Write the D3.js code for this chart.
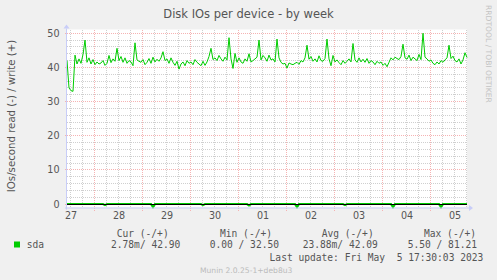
<!DOCTYPE html>
<html>
<head>
<meta charset="utf-8">
<script src="https://cdn.jsdelivr.net/npm/d3@7"></script>
<style>
  body { margin: 0; background: #f0f0f0; }
  svg { display: block; }
  text { font-family: "DejaVu Sans", sans-serif; fill: #555; }
  .mono { font-family: "DejaVu Sans Mono", monospace; font-size: 9.6px; fill: #555; }
</style>
</head>
<body>
<div id="chart"></div>
<script>
// hourly samples, first one at Apr 27 10:15
var startTime = new Date(2023, 3, 27, 10, 15)
var endTime = new Date(2023, 4, 5, 18, 15)

// write (+), IOs/second
var writeVals = [
  42, 34, 33.2, 33, 43.6, 41, 42.5, 41.2, 43.8, 48,
  41.5, 42.8, 41, 42.3, 40.8, 41.6, 41, 41.3, 42, 40.6,
  41.2, 43.5, 41.4, 42.5, 41.8, 45.6, 42, 43.2, 41.5, 42.8,
  41.2, 42, 41.6, 40.5, 47.2, 42.2, 41.8, 41.5, 42.3, 40.8,
  41.5, 42.6, 41.2, 43, 41.6, 42.4, 41.8, 42.8, 44.6, 42,
  42.5, 41.2, 42.8, 41.5, 40.6, 41.8, 39.5, 41, 41.6, 40.5,
  42, 41.2, 41.6, 40.8, 42.3, 41.5, 41, 40.5, 41.8, 40.6,
  41.6, 43.2, 45.6, 42.3, 42.8, 42, 43.5, 42.5, 41.8, 43,
  42.2, 48.7, 42.5, 39.7, 44.1, 41.5, 42.8, 41.6, 41.2, 42.5,
  41.8, 44, 41.6, 42, 42.5, 43, 48, 42.2, 43.5, 42.8,
  41.8, 43.6, 42.2, 42.5, 41.6, 48.3, 42.8, 41.5, 41, 41.2,
  39.8, 41.3, 41, 40.8, 41.2, 41.5, 40.9, 42, 41.6, 42.8,
  46.5, 42.4, 43.2, 41.8, 42.5, 41.6, 43.4, 42, 41.8, 42.6,
  48.3, 42.5, 40.5, 43.5, 41.6, 42.2, 41.4, 40.8, 42, 41.2,
  41.8, 42.5, 41.6, 47, 42.2, 41.5, 42.8, 41.6, 42.4, 41.5,
  42.6, 41.2, 42, 41.6, 40.8, 41.8, 41.2, 41.6, 40.6, 41.2,
  40.2, 41.5, 42.8, 42.2, 43, 42.6, 42.3, 43.2, 46.8, 42.8,
  42.4, 43.6, 42, 43, 42.5, 42, 43.8, 42.3, 50, 43,
  42.5, 41.8, 42.2, 41.2, 40.8, 41.6, 41, 42, 41.5, 42.2,
  42.8, 46.5, 42.6, 43.3, 42, 41.6, 42.5, 41, 42.2, 44.3,
  42.9
]

// read (-), plotted below zero
var readVals = [
  0, 0, 0, 0, 0, 0, 0, 0, 0, 0,
  0, 0, 0, 0, 0, 0, 0, 0, 0, 0.3,
  0, 0, 0, 0, 0, 0, 0, 0, 0, 0,
  0, 0, 0, 0, 0, 0, 0, 0, 0, 0,
  0, 0, 0, 0.9, 0, 0, 0, 0, 0, 0,
  0, 0, 0, 0, 0, 0, 0, 0, 0, 0,
  0, 0, 0, 0, 0, 0, 0, 0, 0.3, 0,
  0, 0, 0, 0, 0, 0, 0, 0, 0, 0,
  0, 0, 0, 0, 0, 0, 0, 0, 0, 0,
  0, 0.4, 0, 0, 0, 0, 0, 0, 0, 0,
  0, 0, 0, 0, 0, 0, 0, 0, 0, 0,
  0, 0, 0, 0, 0, 0.9, 0, 0, 0, 0,
  0, 0, 0, 0, 0, 0, 0, 0, 0, 0,
  0, 0, 0, 0, 0, 0, 0, 0, 0, 0.3,
  0, 0, 0, 0, 0, 0, 0, 0, 0, 0,
  0, 0, 0, 0, 0, 0, 0, 0, 0, 0,
  0, 0, 0, 0.9, 0, 0, 0, 0, 0, 0,
  0, 0, 0, 0, 0, 0, 0, 0, 0, 0,
  0, 0, 0, 0, 0, 0, 0, 0.9, 0, 0,
  0, 0, 0, 0, 0, 0, 0, 0, 0, 0,
  0
]

var yTicks = [0, 10, 20, 30, 40, 50]
var dayLabels = ["27", "28", "29", "30", "01", "02", "03", "04", "05"]

var legendHead = ["Cur (-/+)", "Min (-/+)", "Avg (-/+)", "Max (-/+)"]
var legendVals = ["2.78m/ 42.90", "0.00 / 32.50", "23.88m/ 42.09", "5.50 / 81.21"]

var W = 497, H = 280
var plotL = 67, plotR = 467, plotT = 29.5, plotB = 207.5

var svg = d3.select("#chart").append("svg").attr("width", W).attr("height", H)
svg.append("rect").attr("width", W).attr("height", H).attr("fill", "#f0f0f0")

var x = d3.scaleTime().domain([startTime, endTime]).range([plotL, plotR])
var y = d3.scaleLinear().domain([-1.0, 51.1]).range([plotB, plotT])

// snap to pixel centre
function px(v){ return Math.floor(v + 0.001) + 0.5 }

svg.append("rect").attr("x", plotL).attr("y", plotT)
  .attr("width", plotR - plotL).attr("height", plotB - plotT).attr("fill", "#fff")

var grid = svg.append("g")

// minor horizontal grid every 2
var minorY = d3.range(0, 51, 2).filter(function(v){ return v % 10 != 0 })
grid.selectAll(".hmin").data(minorY).enter().append("line")
  .attr("x1", plotL).attr("x2", plotR)
  .attr("y1", function(d){ return px(y(d)) })
  .attr("y2", function(d){ return px(y(d)) })
  .attr("stroke", "#cfcfcf").attr("stroke-dasharray", "1,1")

// minor vertical grid every 6 hours
var sixHours = d3.timeHour.every(6).range(startTime, endTime).filter(function(d){ return d.getHours() != 0 })
grid.selectAll(".vmin").data(sixHours).enter().append("line")
  .attr("y1", 30).attr("y2", 208)
  .attr("x1", function(d){ return px(x(d)) })
  .attr("x2", function(d){ return px(x(d)) })
  .attr("stroke", "#cfcfcf").attr("stroke-dasharray", "1,1")

// major grid
grid.selectAll(".hmaj").data(yTicks).enter().append("line")
  .attr("x1", plotL - 2).attr("x2", plotR)
  .attr("y1", function(d){ return px(y(d)) })
  .attr("y2", function(d){ return px(y(d)) })
  .attr("stroke", "#f5b3b3").attr("stroke-dasharray", "1,1")

var midnights = d3.timeDay.range(d3.timeDay.ceil(startTime), endTime)
grid.selectAll(".vmaj").data(midnights).enter().append("line")
  .attr("y1", 30).attr("y2", 211)
  .attr("x1", function(d){ return px(x(d)) })
  .attr("x2", function(d){ return px(x(d)) })
  .attr("stroke", "#f5b3b3").attr("stroke-dasharray", "1,1")

// series
var hour = function(i){ return d3.timeHour.offset(startTime, i) }
var line = d3.line()
  .x(function(d, i){ return x(hour(i)) })
  .y(function(d){ return y(d) })

svg.append("path").datum(readVals.map(function(v){ return -v }))
  .attr("d", line).attr("fill", "none").attr("stroke", "#00cc00").attr("stroke-width", 2)

svg.append("line").attr("x1", plotL).attr("x2", plotR)
  .attr("y1", px(y(0))).attr("y2", px(y(0)))
  .attr("stroke", "#000")

svg.append("path").datum(writeVals)
  .attr("d", line).attr("fill", "none").attr("stroke", "#00cc00").attr("stroke-width", 1)

// axes lines with arrows
var axisCol = "#c8cdf8"
svg.append("line").attr("x1", plotL - 0.5).attr("x2", plotL - 0.5).attr("y1", plotB + 2).attr("y2", plotT - 1)
  .attr("stroke", axisCol)
svg.append("line").attr("x1", plotL - 2).attr("x2", plotR + 2).attr("y1", plotB + 0.5).attr("y2", plotB + 0.5)
  .attr("stroke", axisCol)
svg.append("path").attr("d", "M" + (plotL - 3.5) + "," + (plotT - 1) + "L" + (plotL - 0.5) + "," + (plotT - 5) + "L" + (plotL + 2.5) + "," + (plotT - 1) + "Z")
  .attr("fill", axisCol)
svg.append("path").attr("d", "M" + (plotR + 2) + "," + (plotB - 2.5) + "L" + (plotR + 6) + "," + (plotB + 0.5) + "L" + (plotR + 2) + "," + (plotB + 3.5) + "Z")
  .attr("fill", axisCol)

// y tick labels
var yAxis = d3.axisLeft(y).tickValues(yTicks).tickSize(0).tickPadding(0).tickFormat(d3.format("d"))
var ya = svg.append("g").attr("transform", "translate(" + 59.5 + ",0)").call(yAxis)
ya.select(".domain").remove()
ya.selectAll("text").attr("font-family", "DejaVu Sans").attr("font-size", "9.6px").attr("fill", "#555")

// x day labels at noon
var noons = midnights.map(function(d){ return d3.timeHour.offset(d, -12) })
noons.push(d3.timeHour.offset(midnights[midnights.length - 1], 12))
var xAxis = d3.axisBottom(x).tickValues(noons).tickSize(0).tickPadding(0)
  .tickFormat(function(d, i){ return dayLabels[i] })
var xa = svg.append("g").attr("transform", "translate(0," + 212 + ")").call(xAxis)
xa.select(".domain").remove()
xa.selectAll("text").attr("font-family", "DejaVu Sans").attr("font-size", "9.6px").attr("fill", "#555")

// titles
svg.append("text").attr("x", 248.5).attr("y", 18.3).attr("text-anchor", "middle")
  .attr("font-size", "11.5px").text("Disk IOs per device - by week")
svg.append("text").attr("transform", "translate(15,116) rotate(-90)").attr("text-anchor", "middle")
  .attr("font-size", "10.2px").text("IOs/second read (-) / write (+)")
svg.append("text").attr("transform", "translate(486,5) rotate(90)").attr("text-anchor", "start")
  .attr("font-size", "7.6px").style("fill", "#c4c4c4").text("RRDTOOL / TOBI OETIKER")

// legend
svg.append("rect").attr("x", 14).attr("y", 241.5).attr("width", 6).attr("height", 6).attr("fill", "#00cc00")
svg.append("text").attr("class", "mono").attr("x", 26.7).attr("y", 248).text("sda")
var headX = [116.7, 220, 321.7, 424]
var valX = [111, 209.7, 302.7, 407.7]
legendHead.forEach(function(t, i){
  svg.append("text").attr("class", "mono").attr("x", headX[i]).attr("y", 237).attr("xml:space", "preserve").text(t)
})
legendVals.forEach(function(t, i){
  svg.append("text").attr("class", "mono").attr("x", valX[i]).attr("y", 248).attr("xml:space", "preserve").text(t)
})
svg.append("text").attr("class", "mono").attr("x", 483.3).attr("y", 261).attr("text-anchor", "end")
  .attr("xml:space", "preserve").text("Last update: Fri May  5 17:30:03 2023")
svg.append("text").attr("x", 200).attr("y", 272.5).attr("font-size", "7.6px").style("fill", "#bbb")
  .text("Munin 2.0.25-1+deb8u3")
</script>
</body>
</html>
